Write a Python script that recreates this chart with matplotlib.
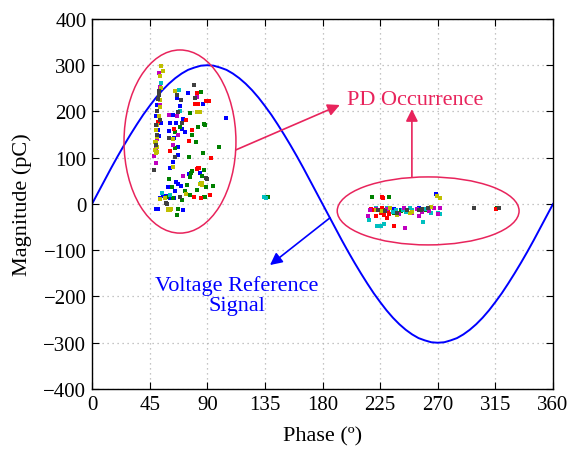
import matplotlib
matplotlib.use("Agg")
import matplotlib.pyplot as plt
from matplotlib.patches import Ellipse

plt.rcParams['font.family'] = ['Liberation Serif', 'DejaVu Serif']
plt.rcParams['axes.unicode_minus'] = True

# Voltage reference signal read every 5 degrees
ref_phase = list(range(0, 361, 5))
ref_mag = [0, 26, 52, 78, 103, 127, 150, 172, 193, 212, 230, 246, 260, 272, 282, 290, 295, 299,
           300, 299, 295, 290, 282, 272, 260, 246, 230, 212, 193, 172, 150, 127, 103, 78, 52, 26,
           0, -26, -52, -78, -103, -127, -150, -172, -193, -212, -230, -246, -260, -272, -282, -290, -295, -299,
           -300, -299, -295, -290, -282, -272, -260, -246, -230, -212, -193, -172, -150, -127, -103, -78, -52, -26, 0]

# PD points by colour (phase, magnitude)
blue_x = [52.6, 49.9, 51.6, 55.4, 58.0, 61.2, 64.4, 52.8, 59.6, 65.6, 66.9, 69.8, 64.6, 71.3, 63.5, 60.9, 66.9,
          67.4, 75.2, 68.8, 63.0, 71.0, 61.0, 65.7, 70.1, 73.0, 60.5, 86.3, 83.1, 104.6, 87.7, 84.3, 53.5, 76.0,
          64.0, 66.0, 50.5, 50.0, 51.3, 268.5, 236.0, 241.0, 255.0]
blue_y = [147, -10, -10, 17, 17, 12, 14, 12, 37, 48, 43, 39, 29, -14, 91, 78, 106,
          123, 240, 212, 192, 184, 175, 175, 162, 155, 158, 217, 217, 186, 74, 67, 175, 65,
          142, 230, 215, 190, 160, 21, -10, -12, -9]

green_x = [60.4, 62.2, 72.9, 76.3, 88.0, 58.5, 63.0, 66.9, 66.1, 77.3, 76.5, 75.9, 86.9, 77.8, 81.2, 99.4, 87.7,
           86.1, 89.1, 94.8, 87.7, 65.0, 64.9, 68.8, 76.5, 85.3, 87.8, 83.0, 88.2, 137.1, 78.0, 74.0, 82.0, 70.0,
           218.9, 232.1, 228.0, 236.0, 241.0, 260.0, 316.6]
green_y = [55, 37, 27, 20, 15, 16, 13, -11, -24, 66, 58, 101, 111, 150, 134, 123, 74,
           60, 36, 38, 15, 120, 155, 167, 196, 243, 172, 166, 170, 15, 72, 40, 30, 8,
           15, 15, -14, -19, -15, -12, -9]

red_x = [82.2, 91.0, 82.7, 73.1, 64.4, 77.8, 75.7, 60.9, 92.9, 83.5, 81.7, 79.4, 80.6, 88.8, 83.0, 92.0, 51.5, 85.0,
         226.2, 227.5, 218.0, 220.0, 226.5, 228.0, 222.0, 226.0, 231.0, 235.7, 230.0, 232.0, 315.1]
red_y = [239, 223, 217, 182, 162, 159, 136, 114, 100, 78, 75, 15, 217, 223, 78, 20, 177, 12,
         15, 14, -10, -12, -9, -23, -25, -20, -15, -48, -30, -21, -11.5]

cyan_x = [54.2, 54.4, 85.1, 68.5, 134.6, 135.5, 68.2, 61.0,
          216.5, 221.7, 227.0, 230.0, 235.0, 237.0, 243.0, 245.0, 248.0, 258.1, 265.0, 270.0, 222.3, 225.4,
          228.0, 260.0, 271.7, 250.0]
cyan_y = [262, 24, 46, 200, 15, 14, 246, 20,
          -35, -8, -15, -8, -17, -12, -12, -17, -8, -39, -20, -19, -48, -48,
          -44, -10, -21, -14]

mag_x = [52.5, 53.4, 82.0, 67.5, 62.9, 48.7, 71.3, 57.0, 53.0, 60.0, 50.0, 66.0, 51.0, 50.3,
         215.7, 217.0, 222.0, 230.0, 244.0, 246.0, 250.0, 254.0, 258.0, 263.0, 267.0, 270.0, 244.2, 271.7,
         255.0, 240.0]
mag_y = [284, 253, 232, 150, 128, 104, 61, 14, 215, 193, 88, 190, 140, 120,
         -26, -13, -10, -10, -8, -13, -20, -10, -18, -15, -8, -21, -52, -8,
         -26, -22]

yel_x = [54.2, 52.9, 55.8, 54.0, 64.5, 84.4, 52.8, 53.3, 49.6, 50.4, 51.0, 49.2, 49.7, 49.2, 63.5, 63.5, 85.6,
         73.5, 59.0, 61.0, 59.6, 61.5, 53.3, 84.0, 57.0, 82.3, 86.0, 50.0, 51.0, 52.0, 50.5, 52.0,
         269.6, 271.7, 222.0, 226.0, 233.0, 238.0, 250.0, 262.0, 265.0, 248.0]
yel_y = [298, 277, 288, 251, 245, 198, 224, 209, 133, 123, 112, 134, 111, 116, 140, 80, 42,
         22, -12, -12, -10, -10, 11, 43, 14, 199, 45, 160, 170, 190, 145, 240,
         17, 13, -12, -16, -9, -24, -17, -8, -6, -20]

gray_x = [79.6, 66.6, 69.3, 67.0, 70.6, 60.4, 64.8, 89.0, 48.4, 49.7, 68.7, 57.8, 58.8, 80.6, 89.5, 52.6, 51.8,
          53.0, 50.5, 51.0, 52.0, 50.0,
          223.0, 228.5, 246.0, 257.0, 258.0, 262.0, 255.0, 298.5, 317.7, 238.0]
gray_y = [257, 236, 224, 199, 176, 143, 102, 57, 73, 128, 16, 2, 0, 229, 55, 235, 228,
          182, 150, 200, 245, 170,
          -12, -16, -12, -14, -10, -8, -13, -8, -8.6, -20]

series = [
    (blue_x, blue_y, (0, 0, 1)),
    (green_x, green_y, (0, 0.5, 0)),
    (red_x, red_y, (1, 0, 0)),
    (cyan_x, cyan_y, (0, 0.75, 0.75)),
    (mag_x, mag_y, (0.75, 0, 0.75)),
    (yel_x, yel_y, (0.75, 0.75, 0)),
    (gray_x, gray_y, (0.25, 0.25, 0.25)),
]

crimson = '#E8245C'

fig = plt.figure(figsize=(5.69, 4.52), dpi=100)
ax = fig.add_axes([0.1617, 0.1372, 0.8102, 0.8186])

ax.plot(ref_phase, ref_mag, color=(0, 0, 1), lw=1.4, zorder=2)
for xs, ys, c in series:
    ax.scatter(xs, ys, s=6, marker='s', color=c, linewidths=0, zorder=3)

ax.add_patch(Ellipse((68.7, 135), 87.4, 396, fill=False, edgecolor=crimson, lw=1.1, zorder=4))
ax.add_patch(Ellipse((262.5, -15), 142, 147, fill=False, edgecolor=crimson, lw=1.1, zorder=4))

arrow_c = dict(arrowstyle='-|>', color=crimson, lw=1.2, mutation_scale=18, shrinkA=0, shrinkB=0)
ax.annotate('', xy=(193.5, 214), xytext=(112.4, 117), arrowprops=arrow_c, zorder=5)
ax.annotate('', xy=(249.8, 205), xytext=(249.8, 58), arrowprops=arrow_c, zorder=5)
ax.text(199, 225, 'PD Occurrence', color=crimson, fontsize=16, ha='left', va='center')

arrow_b = dict(arrowstyle='-|>', color=(0, 0, 1), lw=1.2, mutation_scale=18, shrinkA=0, shrinkB=0)
ax.annotate('', xy=(139, -132), xytext=(185.8, -30), arrowprops=arrow_b, zorder=5)
ax.text(113, -197, 'Voltage Reference\nSignal', color=(0, 0, 1), fontsize=16, ha='center', va='center',
        linespacing=1.1)

ax.set_xlim(0, 360)
ax.set_ylim(-400, 400)
ax.set_xticks(range(0, 361, 45))
ax.set_yticks(range(-400, 401, 100))
ax.grid(True, linestyle=(0, (1, 3)), color=(0.7, 0.7, 0.7), lw=0.9)
ax.tick_params(direction='in', top=True, right=True, labelsize=15, length=5, pad=4)
for s in ax.spines.values():
    s.set_linewidth(1.0)
ax.set_xlabel('Phase (º)', fontsize=16, labelpad=9)
ax.set_ylabel('Magnitude (pC)', fontsize=16, labelpad=8)

fig.savefig('out.png', dpi=100)
